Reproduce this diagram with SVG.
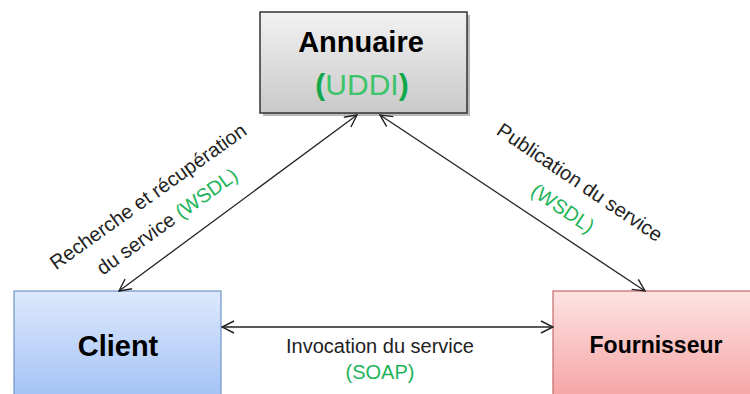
<svg xmlns="http://www.w3.org/2000/svg" width="750" height="394" viewBox="0 0 750 394">
<defs>
<linearGradient id="gGray" x1="0" y1="0" x2="0" y2="1"><stop offset="0" stop-color="#f2f2f2"/><stop offset="1" stop-color="#c9c9c9"/></linearGradient>
<linearGradient id="gBlue" x1="0" y1="0" x2="0" y2="1"><stop offset="0" stop-color="#dde9fd"/><stop offset="1" stop-color="#a3c1f5"/></linearGradient>
<linearGradient id="gRed" x1="0" y1="0" x2="0" y2="1"><stop offset="0" stop-color="#fde2e2"/><stop offset="1" stop-color="#f5a3a3"/></linearGradient>
<marker id="arr" viewBox="0 0 14 14" refX="13" refY="7" markerWidth="14" markerHeight="14" markerUnits="userSpaceOnUse" orient="auto-start-reverse">
<path d="M1,1 L13,7 L1,13" fill="none" stroke="#222" stroke-width="1.4"/>
</marker>
</defs>
<style>
.lbl{font-family:"Liberation Sans",Arial,sans-serif;font-size:20px;fill:#222;}
.grn{fill:#1fb45a;}
.title{font-family:"Liberation Sans",Arial,sans-serif;font-weight:bold;fill:#000;}
.conn{stroke:#222;stroke-width:1.3;fill:none;marker-start:url(#arr);marker-end:url(#arr);}
</style>
<rect width="750" height="394" fill="#fff"/>
<g id="annuaire">
<rect x="263" y="15" width="207" height="101" fill="#8a8a8a" opacity="0.6"/>
<rect x="260" y="12" width="207" height="101" fill="url(#gGray)" stroke="#333" stroke-width="1.5"/>
<text class="title" x="361" y="52" font-size="29" text-anchor="middle">Annuaire</text>
<text x="362" y="95" font-family="Liberation Sans,Arial,sans-serif" font-size="30" text-anchor="middle" fill="#3cc46a"><tspan font-weight="bold" fill="#10a84a">(</tspan>UDDI<tspan font-weight="bold" fill="#10a84a">)</tspan></text>
</g>
<g id="client">
<rect x="14" y="291" width="207" height="110" fill="url(#gBlue)" stroke="#6f94c8" stroke-width="1.2"/>
<text class="title" x="118" y="356" font-size="29" text-anchor="middle">Client</text>
</g>
<g id="fournisseur">
<rect x="553" y="291" width="207" height="110" fill="url(#gRed)" stroke="#c46a6a" stroke-width="1.2"/>
<text class="title" x="656" y="353" font-size="23" text-anchor="middle">Fournisseur</text>
</g>
<g id="connectors">
<line class="conn" x1="119" y1="291" x2="357" y2="115"/>
<line class="conn" x1="380" y1="115" x2="645" y2="291"/>
<line class="conn" x1="222" y1="327" x2="553" y2="327"/>
</g>
<g id="labels">
<text class="lbl" transform="translate(152,202) rotate(-35.5)" text-anchor="middle">Recherche et récupération</text>
<text class="lbl" transform="translate(171,227) rotate(-35.5)" text-anchor="middle">du service <tspan class="grn">(WSDL)</tspan></text>
<text class="lbl" transform="translate(576,188) rotate(34)" text-anchor="middle">Publication du service</text>
<text class="lbl grn" transform="translate(559,214) rotate(34)" text-anchor="middle">(WSDL)</text>
<text class="lbl" x="380" y="353" text-anchor="middle">Invocation du service</text>
<text class="lbl grn" x="380" y="379" text-anchor="middle">(SOAP)</text>
</g>
</svg>
